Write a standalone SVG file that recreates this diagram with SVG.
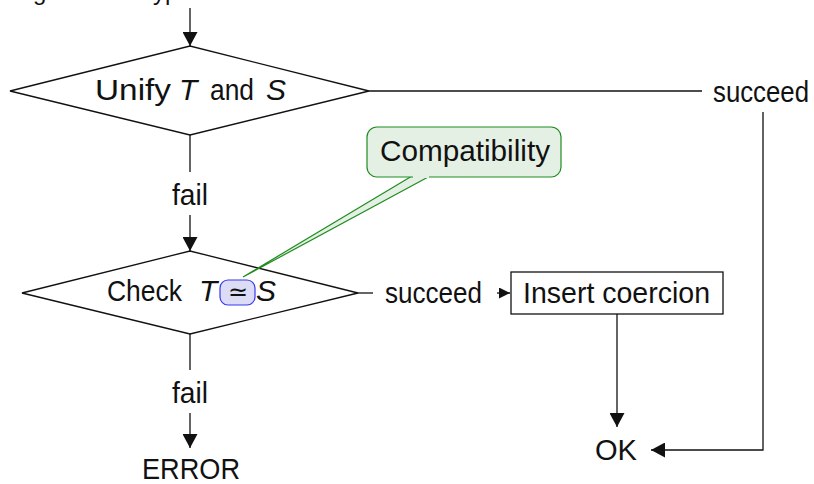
<svg xmlns="http://www.w3.org/2000/svg" width="814" height="484" viewBox="0 0 814 484">
<style>
text{font-family:"Liberation Sans",Arial,sans-serif;font-size:30px;fill:#111}
.it{font-style:italic}
.shape{fill:#fff;stroke:#111;stroke-width:1.3}
.conn{fill:none;stroke:#111;stroke-width:1.3}
</style>
<defs>
<marker id="ah" markerUnits="userSpaceOnUse" markerWidth="14" markerHeight="15" refX="14" refY="7.5" orient="auto"><path d="M0,0 L14,7.5 L0,15 z" fill="#111"/></marker>
<marker id="ahs" markerUnits="userSpaceOnUse" markerWidth="11" markerHeight="11" refX="11" refY="5.5" orient="auto"><path d="M0,0 L11,5.5 L0,11 z" fill="#111"/></marker>
</defs>
<rect width="814" height="484" fill="#fff"/>
<g id="start">
<text x="9" y="0" style="font-size:24px">Argument of type</text>
</g>
<g id="connectors">
<path class="conn" d="M190,8 L190,46" marker-end="url(#ah)"/>
<path class="conn" d="M369,91 L702,91"/>
<path class="conn" d="M763,112 L763,450 L651,450" marker-end="url(#ah)"/>
<path class="conn" d="M190,135 L190,172"/>
<path class="conn" d="M190,215 L190,251" marker-end="url(#ah)"/>
<path class="conn" d="M190,334 L190,370"/>
<path class="conn" d="M190,413 L190,448" marker-end="url(#ah)"/>
<path class="conn" d="M358,293 L373,293"/>
<path class="conn" d="M497,293 L510,293" marker-end="url(#ahs)"/>
<path class="conn" d="M617,314 L617,427" marker-end="url(#ah)"/>
</g>
<g id="unify">
<polygon class="shape" points="10,91 190,46 369,91 190,135"/>
<text x="95" y="100" textLength="76" lengthAdjust="spacingAndGlyphs">Unify</text>
<text x="179" y="100" class="it">T</text>
<text x="210" y="100" textLength="44" lengthAdjust="spacingAndGlyphs">and</text>
<text x="266" y="100" class="it">S</text>
</g>
<g id="succeed1">
<text x="713" y="102" textLength="96" lengthAdjust="spacingAndGlyphs">succeed</text>
</g>
<g id="fail1">
<text x="172" y="205" textLength="36" lengthAdjust="spacingAndGlyphs">fail</text>
</g>
<g id="check">
<polygon class="shape" points="22,293 190,251 358,293 190,334"/>
<text x="107" y="301" textLength="75" lengthAdjust="spacingAndGlyphs">Check</text>
<text x="199" y="301" class="it">T</text>
<rect x="220" y="280" width="35" height="25" rx="8" fill="#dcdcf6" stroke="#3838f0" stroke-width="1.2"/>
<text x="237.5" y="300" text-anchor="middle" style="font-family:'DejaVu Sans',sans-serif;font-size:24px;font-weight:200">≃</text>
<text x="256" y="301" class="it">S</text>
</g>
<g id="compat">
<polygon points="412,176 243,277 430,176" fill="#e5f0e5" stroke="#1f8c1f" stroke-width="1.2"/>
<rect x="367" y="127" width="194" height="50" rx="10" fill="#e5f0e5" stroke="#1f8c1f" stroke-width="1.2"/>
<path d="M413,177 L429,177" stroke="#e5f0e5" stroke-width="2"/>
<text x="380" y="161" textLength="170" lengthAdjust="spacingAndGlyphs">Compatibility</text>
</g>
<g id="succeed2">
<text x="385" y="303" textLength="97" lengthAdjust="spacingAndGlyphs">succeed</text>
</g>
<g id="insert">
<rect class="shape" x="511" y="272" width="212" height="42"/>
<text x="523" y="303" textLength="187" lengthAdjust="spacingAndGlyphs">Insert coercion</text>
</g>
<g id="fail2">
<text x="172" y="403" textLength="36" lengthAdjust="spacingAndGlyphs">fail</text>
</g>
<g id="error">
<text x="142" y="479" textLength="98" lengthAdjust="spacingAndGlyphs">ERROR</text>
</g>
<g id="ok">
<text x="595" y="460" textLength="42" lengthAdjust="spacingAndGlyphs">OK</text>
</g>
</svg>
